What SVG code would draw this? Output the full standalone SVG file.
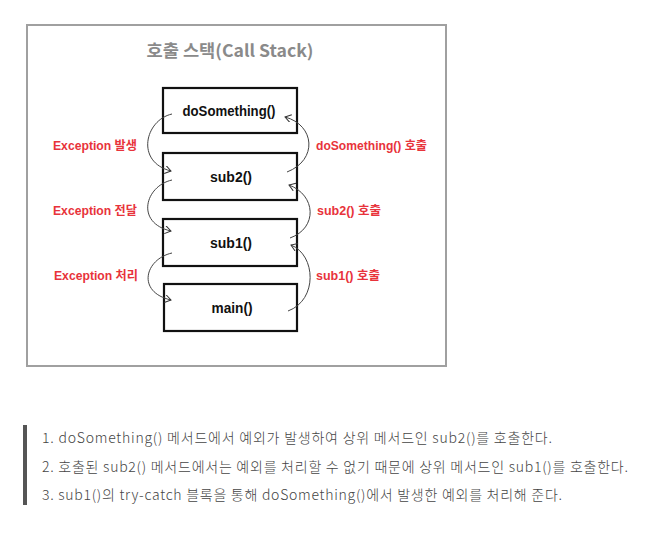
<svg xmlns="http://www.w3.org/2000/svg" width="665" height="541" viewBox="0 0 665 541">
  <defs>
    <marker id="arr" markerWidth="10" markerHeight="10" refX="7" refY="4" orient="auto" markerUnits="userSpaceOnUse">
      <path d="M1,0 L7,4 L1,8" fill="none" stroke="#333" stroke-width="1"/>
    </marker>
    <style>
      .box{fill:#fff;stroke:#111;stroke-width:2.2}
      .bl{font-family:"Liberation Sans","Noto Sans CJK KR",sans-serif;font-weight:bold;font-size:14.5px;fill:#111;text-anchor:middle}
      .red{font-family:"Liberation Sans","Noto Sans CJK KR",sans-serif;font-weight:bold;font-size:12.5px;fill:#e8333b}
      .con{fill:none;stroke:#444;stroke-width:1}
      .desc{font-family:"Noto Sans CJK KR","Noto Sans",sans-serif;font-size:14px;fill:#444;font-weight:300}
    </style>
  </defs>
  <rect width="665" height="541" fill="#fff"/>
  <g id="frame">
    <rect x="27" y="25" width="419" height="341" fill="#fff" stroke="#a0a0a0" stroke-width="2"/>
    <text x="230" y="57" text-anchor="middle" font-family="'Noto Sans CJK KR','Liberation Sans',sans-serif" font-weight="bold" font-size="17" fill="#8a8a8a" textLength="167" lengthAdjust="spacingAndGlyphs">호출 스택(Call Stack)</text>
  </g>
  <g id="doSomething">
    <rect class="box" x="163" y="88" width="134" height="45"/>
    <text class="bl" x="229" y="116" textLength="93" lengthAdjust="spacingAndGlyphs">doSomething()</text>
  </g>
  <g id="sub2">
    <rect class="box" x="163" y="153" width="134" height="47"/>
    <text class="bl" x="231" y="182" textLength="42" lengthAdjust="spacingAndGlyphs">sub2()</text>
  </g>
  <g id="sub1">
    <rect class="box" x="163" y="219" width="134" height="47"/>
    <text class="bl" x="231" y="248" textLength="42" lengthAdjust="spacingAndGlyphs">sub1()</text>
  </g>
  <g id="main">
    <rect class="box" x="164" y="284" width="133" height="47"/>
    <text class="bl" x="232" y="313" textLength="41" lengthAdjust="spacingAndGlyphs">main()</text>
  </g>
  <g id="connectors">
    <path class="con" d="M172,114 C145,120 135,162 171,171" marker-end="url(#arr)"/>
    <path class="con" d="M172,180 C145,186 135,223 171,231" marker-end="url(#arr)"/>
    <path class="con" d="M172,253 C145,259 136,292 171,300" marker-end="url(#arr)"/>
    <path class="con" d="M287,172 C318,160 315,125 285,117" marker-end="url(#arr)"/>
    <path class="con" d="M290,238 C318,228 316,195 289,185" marker-end="url(#arr)"/>
    <path class="con" d="M288,311 C318,300 316,255 291,245" marker-end="url(#arr)"/>
  </g>
  <g id="labels">
    <text class="red" x="53" y="150" textLength="84" lengthAdjust="spacingAndGlyphs">Exception 발생</text>
    <text class="red" x="316" y="150" textLength="111" lengthAdjust="spacingAndGlyphs">doSomething() 호출</text>
    <text class="red" x="53" y="215" textLength="84" lengthAdjust="spacingAndGlyphs">Exception 전달</text>
    <text class="red" x="317" y="215" textLength="64" lengthAdjust="spacingAndGlyphs">sub2() 호출</text>
    <text class="red" x="54" y="280" textLength="84" lengthAdjust="spacingAndGlyphs">Exception 처리</text>
    <text class="red" x="316" y="280" textLength="64" lengthAdjust="spacingAndGlyphs">sub1() 호출</text>
  </g>
  <g id="notes">
    <rect x="23" y="425" width="4" height="80" fill="#555"/>
    <text class="desc" x="42" y="443" textLength="510" lengthAdjust="spacing">1. doSomething() 메서드에서 예외가 발생하여 상위 메서드인 sub2()를 호출한다.</text>
    <text class="desc" x="42" y="472" textLength="586" lengthAdjust="spacing">2. 호출된 sub2() 메서드에서는 예외를 처리할 수 없기 때문에 상위 메서드인 sub1()를 호출한다.</text>
    <text class="desc" x="42" y="500" textLength="520" lengthAdjust="spacing">3. sub1()의 try-catch 블록을 통해 doSomething()에서 발생한 예외를 처리해 준다.</text>
  </g>
</svg>
